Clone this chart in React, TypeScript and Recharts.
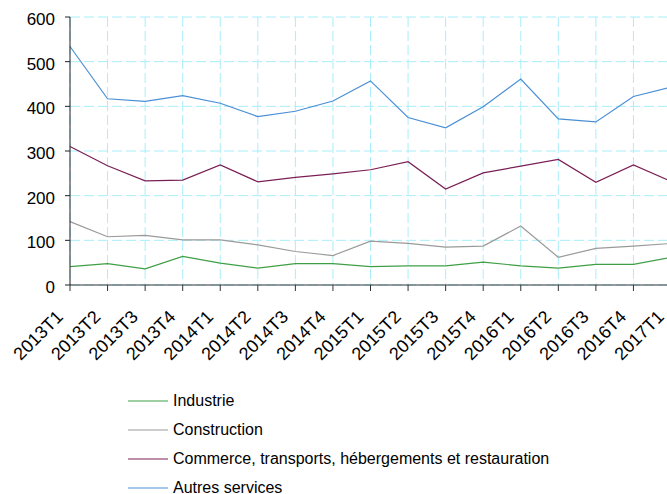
import { LineChart, Line, XAxis, YAxis, CartesianGrid, Legend } from 'recharts';

const quarters = [
  '2013T1', '2013T2', '2013T3', '2013T4',
  '2014T1', '2014T2', '2014T3', '2014T4',
  '2015T1', '2015T2', '2015T3', '2015T4',
  '2016T1', '2016T2', '2016T3', '2016T4',
  '2017T1',
];

const industrie = [41, 48, 36, 64, 49, 38, 48, 48, 41, 43, 43, 51, 43, 38, 46, 46, 62];
const construction = [142, 108, 111, 101, 101, 90, 75, 66, 98, 93, 85, 87, 132, 62, 82, 87, 93];
const commerce = [310, 267, 233, 235, 269, 231, 241, 249, 258, 276, 215, 251, 266, 281, 230, 269, 232];
const autresServices = [534, 417, 411, 424, 407, 377, 389, 412, 457, 375, 352, 399, 461, 372, 365, 422, 443];

const yTicks = [0, 100, 200, 300, 400, 500, 600];

const series = [
  { key: 'industrie', name: 'Industrie', color: '#3f9f46' },
  { key: 'construction', name: 'Construction', color: '#9a9a9a' },
  { key: 'commerce', name: 'Commerce, transports, hébergements et restauration', color: '#7a1f55' },
  { key: 'autres', name: 'Autres services', color: '#4a8fd6' },
];

const data = quarters.map((q, i) => ({
  q,
  industrie: industrie[i],
  construction: construction[i],
  commerce: commerce[i],
  autres: autresServices[i],
}));

const font = '"Liberation Sans", Arial, sans-serif';

// rotated quarter labels, anchored at the end of the text
const XTick = ({ x, y, payload }: any) => {
  const ax = x - 6;
  const ay = y + 25;
  return (
    <text
      x={ax}
      y={ay}
      transform={`rotate(-45, ${ax}, ${ay})`}
      textAnchor="end"
      fontSize={18}
      fontFamily={font}
      fill="#000"
    >
      {payload.value}
    </text>
  );
};

const LegendBox = () => (
  <div style={{ fontFamily: font, fontSize: 16, color: '#000' }}>
    {series.map((s) => (
      <div key={s.key} style={{ display: 'flex', alignItems: 'center', height: 29 }}>
        <svg width={40} height={4} style={{ marginRight: 5 }}>
          <line x1={0} y1={2} x2={40} y2={2} stroke={s.color} strokeWidth={1.2} />
        </svg>
        <span>{s.name}</span>
      </div>
    ))}
  </div>
);

export default function App() {
  return (
    <div style={{ position: 'absolute', left: 0, top: 0, width: 667, height: 494, overflow: 'hidden', background: '#fff' }}>
      <LineChart width={690} height={494} data={data} margin={{ top: 17, right: 19, left: 0, bottom: 0 }}>
        <CartesianGrid strokeDasharray="10 4" stroke="#a8eefa" />
        <XAxis
          dataKey="q"
          height={209}
          interval={0}
          tick={<XTick />}
          tickSize={6}
          stroke="#333"
          tickLine={{ stroke: '#333' }}
        />
        <YAxis
          width={70}
          domain={[0, 600]}
          ticks={yTicks}
          interval={0}
          tickSize={5}
          tickMargin={10}
          stroke="#222"
          tick={{ fontSize: 17, fontFamily: font, fill: '#000', dy: 2 }}
        />
        <Legend
          layout="vertical"
          align="center"
          verticalAlign="middle"
          content={<LegendBox />}
          wrapperStyle={{ left: 128, top: 386, width: 500 }}
        />
        {series.map((s) => (
          <Line
            key={s.key}
            type="linear"
            dataKey={s.key}
            name={s.name}
            stroke={s.color}
            strokeWidth={1.2}
            dot={false}
            activeDot={false}
            isAnimationActive={false}
          />
        ))}
      </LineChart>
    </div>
  );
}
